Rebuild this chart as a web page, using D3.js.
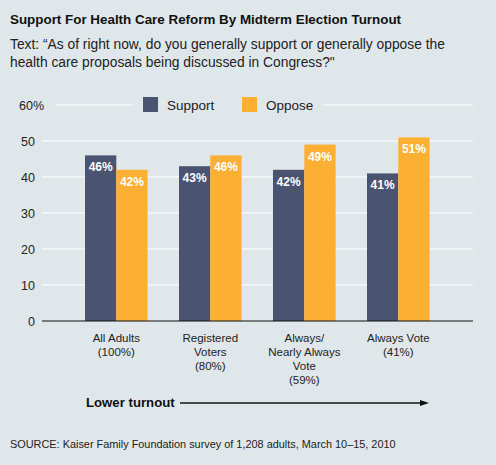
<!DOCTYPE html>
<html>
<head>
<meta charset="utf-8">
<script src="https://cdn.jsdelivr.net/npm/d3@7"></script>
<style>
  body { margin: 0; background: #e0e7ea; }
  text { font-family: "Liberation Sans", Arial, sans-serif; }
</style>
</head>
<body>
<div id="chart"></div>
<script>
// chart data
const categories = ["All Adults", "Registered", "Always/", "Always Vote"];
const categoryLines = [
    ["All Adults", "(100%)"],
    ["Registered", "Voters", "(80%)"],
    ["Always/", "Nearly Always", "Vote", "(59%)"],
    ["Always Vote", "(41%)"]
];
const seriesNames = ["Support", "Oppose"];
const supportValues = [46, 43, 42, 41];
const opposeValues = [42, 46, 49, 51];
const yTicks = [0, 10, 20, 30, 40, 50, 60];

const colors = {Support: "#4a5470", Oppose: "#fbb034"};

const width = 496, height = 465;
const svg = d3.select("#chart").append("svg")
    .attr("width", width)
    .attr("height", height);

svg.append("rect").attr("width", width).attr("height", height).attr("fill", "#e0e7ea");

// titles
svg.append("text")
    .attr("x", 10).attr("y", 23.5)
    .style("font-size", "13.4px").style("font-weight", "bold").attr("fill", "#111")
    .text("Support For Health Care Reform By Midterm Election Turnout");

const sub = ["Text: \u201cAs of right now, do you generally support or generally oppose the",
             "health care proposals being discussed in Congress?\""];
svg.selectAll(".sub")
    .data(sub)
    .join("text")
    .attr("class", "sub")
    .attr("x", 10).attr("y", (d, i) => 49 + i * 18)
    .style("font-size", "13.8px").attr("fill", "#222")
    .text(d => d);

// scales
const y = d3.scaleLinear().domain([0, 60]).range([321, 105]);
const x0 = d3.scaleBand().domain(categories).range([85, 429.6]).paddingInner(0.334).paddingOuter(0);
const x1 = d3.scaleBand().domain(seriesNames).range([0, x0.bandwidth()]);

// gridlines
const grid = svg.append("g");
grid.selectAll("line")
    .data(yTicks.filter(d => d > 0))
    .join("line")
    .attr("x1", d => d === 60 ? 56 : 42)
    .attr("x2", 473)
    .attr("y1", d => y(d)).attr("y2", d => y(d))
    .attr("stroke", "#ffffff").attr("stroke-width", 1);

// legend sits on top of the 60% line
svg.append("rect")
    .attr("x", 133).attr("y", 95).attr("width", 190).attr("height", 20)
    .attr("fill", "#e0e7ea");
const legendX = [143, 242];
const legend = svg.selectAll(".legend")
    .data(seriesNames)
    .join("g")
    .attr("class", "legend")
    .attr("transform", (d, i) => `translate(${legendX[i]},97)`);
legend.append("rect")
    .attr("width", 15).attr("height", 15)
    .attr("fill", d => colors[d]);
legend.append("text")
    .attr("x", 24).attr("y", 12.5)
    .style("font-size", "13.5px").attr("fill", "#222")
    .text(d => d);

// y tick labels
svg.selectAll(".ytick")
    .data(yTicks)
    .join("text")
    .attr("class", "ytick")
    .attr("x", 35)
    .attr("y", d => y(d) + 4.5)
    .style("font-size", "12.5px").attr("fill", "#222")
    .attr("text-anchor", "end")
    .text(d => d)
    .filter(d => d === 60)
    .attr("text-anchor", "start")
    .attr("x", 19)
    .text("60%");

// bars
const barData = categories.map((c, i) => ({
    cat: c,
    values: [
        {series: "Support", value: supportValues[i]},
        {series: "Oppose", value: opposeValues[i]}
    ]
}));

const groups = svg.selectAll(".group")
    .data(barData)
    .join("g")
    .attr("class", "group")
    .attr("transform", d => `translate(${x0(d.cat)},0)`);

groups.selectAll("rect")
    .data(d => d.values)
    .join("rect")
    .attr("x", d => x1(d.series))
    .attr("width", x1.bandwidth())
    .attr("y", d => y(d.value))
    .attr("height", d => y(0) - y(d.value))
    .attr("fill", d => colors[d.series]);

groups.selectAll(".val")
    .data(d => d.values)
    .join("text")
    .attr("class", "val")
    .attr("x", d => x1(d.series) + x1.bandwidth() / 2)
    .attr("y", d => y(d.value) + 16)
    .attr("text-anchor", "middle")
    .style("font-size", "12px").style("font-weight", "bold")
    .attr("fill", "#ffffff")
    .text(d => d.value + "%");

// baseline
svg.append("line")
    .attr("x1", 42).attr("x2", 473)
    .attr("y1", y(0)).attr("y2", y(0))
    .attr("stroke", "#111").attr("stroke-width", 1.2);

// category labels
svg.selectAll(".cat")
    .data(categories)
    .join("text")
    .attr("class", "cat")
    .attr("text-anchor", "middle")
    .style("font-size", "11.5px").attr("fill", "#222")
    .attr("transform", d => `translate(${x0(d) + x0.bandwidth() / 2},342)`)
    .selectAll("tspan")
    .data((d, i) => categoryLines[i])
    .join("tspan")
    .attr("x", 0)
    .attr("y", (d, i) => i * 14)
    .text(d => d);

// lower turnout arrow
svg.append("text")
    .attr("x", 86).attr("y", 407)
    .style("font-size", "13.2px").style("font-weight", "bold").attr("fill", "#111")
    .text("Lower turnout");
svg.append("line")
    .attr("x1", 180).attr("x2", 422)
    .attr("y1", 403).attr("y2", 403)
    .attr("stroke", "#111").attr("stroke-width", 1.3);
svg.append("path")
    .attr("d", "M420,400 L429,403 L420,406 Z")
    .attr("fill", "#111");

// source
svg.append("text")
    .attr("x", 10).attr("y", 448)
    .style("font-size", "10.9px").attr("fill", "#222")
    .text("SOURCE: Kaiser Family Foundation survey of 1,208 adults, March 10\u201315, 2010");
</script>
</body>
</html>
